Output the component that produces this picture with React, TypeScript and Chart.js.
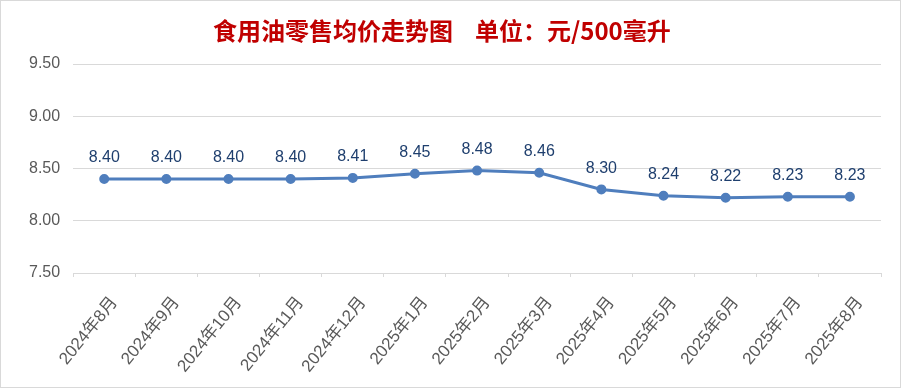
import React, { useEffect, useRef } from "react";
import { Chart, registerables } from "chart.js";

Chart.register(...registerables);

const TITLE_LEFT = "食用油零售均价走势图";
const TITLE_RIGHT = "单位：元/500毫升";
const categories = [
  "2024年8月", "2024年9月", "2024年10月", "2024年11月", "2024年12月",
  "2025年1月", "2025年2月", "2025年3月", "2025年4月", "2025年5月",
  "2025年6月", "2025年7月", "2025年8月",
];
const prices = [8.40, 8.40, 8.40, 8.40, 8.41, 8.45, 8.48, 8.46, 8.30, 8.24, 8.22, 8.23, 8.23];
const yMin = 7.5;
const yMax = 9.5;
const yStep = 0.5;

const labelPlugin = {
  id: "pointLabels",
  afterDatasetsDraw(chart: any) {
    const ctx = chart.ctx;
    const meta = chart.getDatasetMeta(0);
    ctx.save();
    ctx.font = '16px "Liberation Sans", "DejaVu Sans", sans-serif';
    ctx.fillStyle = "#1F3F6E";
    ctx.textAlign = "center";
    ctx.textBaseline = "middle";
    meta.data.forEach((pt: any, i: number) => {
      ctx.fillText(prices[i].toFixed(2), pt.x, pt.y - 21);
    });
    ctx.restore();
  },
};

const titlePlugin = {
  id: "customTitle",
  afterDraw(chart: any) {
    const ctx = chart.ctx;
    ctx.save();
    ctx.font = 'bold 24px "Noto Sans CJK SC", sans-serif';
    ctx.fillStyle = "#C00000";
    ctx.textBaseline = "middle";
    ctx.textAlign = "left";
    ctx.fillText(TITLE_LEFT, 212, 30);
    ctx.fillText(TITLE_RIGHT, 474, 30);
    ctx.restore();
  },
};

export default function App() {
  const ref = useRef<HTMLCanvasElement>(null);
  useEffect(() => {
    document.body.style.margin = "0";
    const chart = new Chart(ref.current!, {
      type: "line",
      data: {
        labels: categories,
        datasets: [
          {
            data: prices,
            borderColor: "#4F7EBD",
            backgroundColor: "#4F7EBD",
            borderWidth: 3,
            pointRadius: 3.5,
            pointBackgroundColor: "#4F7EBD",
            pointBorderColor: "#4F7EBD",
            tension: 0,
          },
        ],
      },
      options: {
        animation: false,
        responsive: false,
        layout: { padding: { left: 15, right: 19, top: 63, bottom: 0 } },
        plugins: {
          legend: { display: false },
          tooltip: { enabled: false },
          title: { display: false },
        },
        scales: {
          x: {
            offset: true,
            afterFit: (scale: any) => {
              scale.height = 114;
            },
            grid: {
              display: true,
              drawOnChartArea: false,
              drawTicks: true,
              tickLength: 4,
              offset: true,
              color: "#D9D9D9",
            },
            border: { display: true, color: "#D9D9D9" },
            ticks: {
              color: "#595959",
              font: { family: '"Liberation Sans", "Noto Sans CJK SC", sans-serif', size: 17 },
              minRotation: 51,
              maxRotation: 51,
              padding: 16,
              labelOffset: 10,
              autoSkip: false,
            },
          },
          y: {
            min: yMin,
            max: yMax,
            grid: { color: "#D9D9D9", drawTicks: false, lineWidth: 1 },
            border: { display: false },
            ticks: {
              stepSize: yStep,
              color: "#595959",
              font: { family: '"Liberation Sans", sans-serif', size: 16 },
              padding: 13,
              callback: (v: any) => Number(v).toFixed(2),
            },
          },
        },
      },
      plugins: [labelPlugin, titlePlugin],
    });
    return () => chart.destroy();
  }, []);
  return (
    <div
      style={{
        width: 901,
        height: 388,
        boxSizing: "border-box",
        border: "1px solid #D9D9D9",
        background: "#fff",
        overflow: "hidden",
      }}
    >
      <canvas ref={ref} width={899} height={386} />
    </div>
  );
}
